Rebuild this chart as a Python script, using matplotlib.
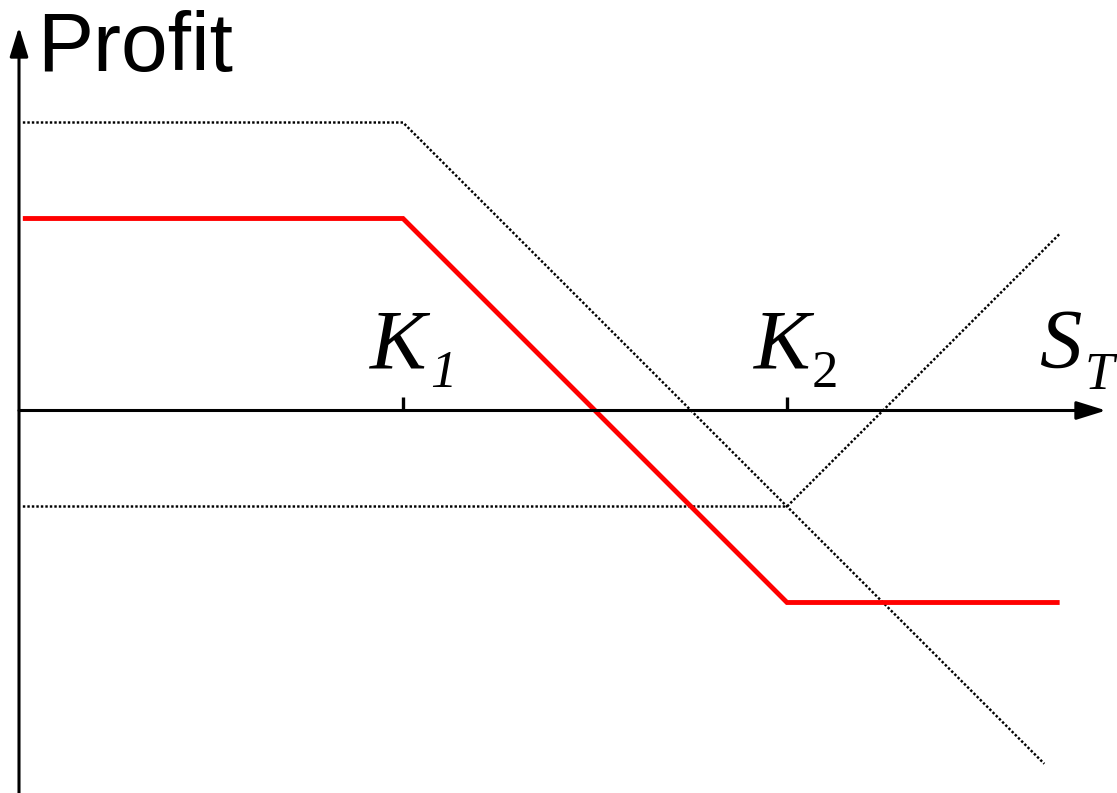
import matplotlib
matplotlib.use("Agg")
import matplotlib.pyplot as plt

# Strikes (in units of the horizontal scale)
K1 = 1.0
K2 = 2.0

# Short call at K1 (premium received 0.75)
short_call_S = [0.01, 1.0, 2.67]
short_call_profit = [0.75, 0.75, -0.92]

# Long call at K2 (premium paid 0.25)
long_call_S = [0.01, 2.0, 2.71]
long_call_profit = [-0.25, -0.25, 0.46]

# Bear call spread (sum)
spread_S = [0.01, 1.0, 2.0, 2.71]
spread_profit = [0.5, 0.5, -0.5, -0.5]

W, H = 1117, 793
fig = plt.figure(figsize=(W / 100, H / 100), dpi=100)
ax = fig.add_axes([0, 0, 1, 1])
u = 384.0
x0px, y0px = 19.0, 410.5
ax.set_xlim(-x0px / u, (W - x0px) / u)
ax.set_ylim(-(H - y0px) / u, y0px / u)
ax.axis("off")

# Axes with arrows
arrow_kw = dict(arrowstyle="-|>,head_length=0.9,head_width=0.28", lw=2.2, color="black",
                shrinkA=0, shrinkB=0, mutation_scale=20)
ax.annotate("", xy=((1106 - x0px) / u, 0), xytext=(0, 0), arrowprops=arrow_kw)
ax.annotate("", xy=(0, (y0px - 27) / u), xytext=(0, -(H - y0px + 5) / u), arrowprops=arrow_kw)

# Tick marks at strikes
for k in (K1, K2):
    ax.plot([k, k], [0, 14 / u], color="black", lw=2.4, solid_capstyle="butt")

dot_style = (0, (1, 0.85))
ax.plot(short_call_S, short_call_profit, color="black", lw=1.75, linestyle=dot_style)
ax.plot(long_call_S, long_call_profit, color="black", lw=1.75, linestyle=dot_style)
ax.plot(spread_S, spread_profit, color="#ff0000", lw=3.5, solid_capstyle="butt",
        solid_joinstyle="miter")

# Labels
serif = ["Liberation Serif", "DejaVu Serif"]
ax.text((37 - x0px) / u, (y0px - 71) / u, "Profit", family=["Liberation Sans", "DejaVu Sans"],
        fontsize=60.5, ha="left", va="baseline")
ax.text((370 - x0px) / u, (y0px - 368) / u, "K", family=serif, style="italic",
        fontsize=61, ha="left", va="baseline")
ax.text((430 - x0px) / u, (y0px - 387) / u, "1", family=serif, style="italic",
        fontsize=38, ha="left", va="baseline")
ax.text((754 - x0px) / u, (y0px - 368) / u, "K", family=serif, style="italic",
        fontsize=61, ha="left", va="baseline")
ax.text((812 - x0px) / u, (y0px - 387) / u, "2", family=serif,
        fontsize=38, ha="left", va="baseline")
ax.text((1040 - x0px) / u, (y0px - 368) / u, "S", family=serif, style="italic",
        fontsize=61, ha="left", va="baseline")
ax.text((1085 - x0px) / u, (y0px - 389) / u, "T", family=serif, style="italic",
        fontsize=38, ha="left", va="baseline")

fig.savefig("out.png", dpi=100)
